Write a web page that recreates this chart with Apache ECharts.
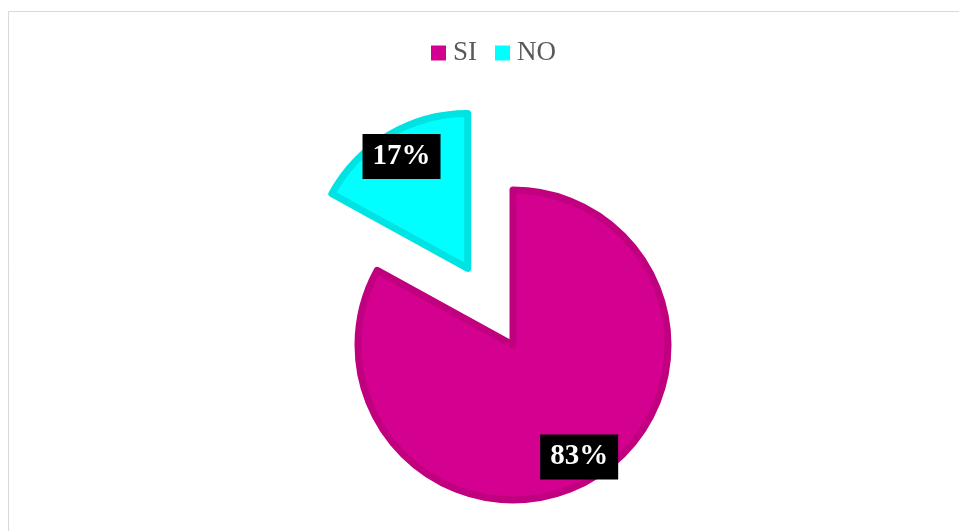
<!DOCTYPE html>
<html>
<head>
<meta charset="utf-8">
<script src="https://cdn.jsdelivr.net/npm/echarts@6/dist/echarts.min.js"></script>
<style>
  html, body { margin: 0; padding: 0; background: #fff; }
  #chart { width: 959px; height: 531px; }
</style>
</head>
<body>
<div id="chart"></div>
<script>
// datos
const categories = ['SI', 'NO'];
const values = [83, 17];
const colors = ['#D4008F', '#00FFFF'];
const borderColors = ['#C0007F', '#00E3E3'];

const serif = '"Liberation Serif", "DejaVu Serif", serif';
const center = [513, 345];

const pieData = categories.map((name, i) => ({
  name: name,
  value: values[i],
  selected: name === 'NO',
  itemStyle: { color: colors[i], borderColor: borderColors[i] }
}));

// serie transparente solo para colocar las etiquetas a ~80% del radio
const labelData = categories.map((name, i) => ({
  name: name,
  value: values[i],
  selected: name === 'NO'
}));

const myChart = echarts.init(document.getElementById('chart'));
const option = {
  animation: false,
  graphic: [
    {
      type: 'rect',
      shape: { x: 8.5, y: 11.5, width: 1000, height: 1000 },
      style: { fill: 'none', stroke: '#D9D9D9', lineWidth: 1 },
      silent: true
    }
  ],
  legend: {
    data: categories,
    left: 431,
    top: 38,
    padding: 0,
    icon: 'rect',
    itemWidth: 15,
    itemHeight: 15,
    itemGap: 18,
    itemStyle: { borderWidth: 0 },
    textStyle: {
      fontFamily: serif,
      fontSize: 27,
      lineHeight: 30,
      color: '#595959',
      padding: [0, 0, 0, 2]
    }
  },
  series: [
    {
      type: 'pie',
      center: center,
      radius: [0, 155],
      startAngle: 90,
      clockwise: true,
      selectedMode: 'multiple',
      selectedOffset: 89,
      silent: true,
      itemStyle: { borderWidth: 7 },
      label: { show: false },
      labelLine: { show: false },
      data: pieData
    },
    {
      type: 'pie',
      center: center,
      radius: [100, 154],
      startAngle: 90,
      clockwise: true,
      selectedMode: 'multiple',
      selectedOffset: 89,
      silent: true,
      legendHoverLink: false,
      itemStyle: { color: 'rgba(0,0,0,0)', borderWidth: 0 },
      label: {
        show: true,
        position: 'inside',
        formatter: '{d}%',
        fontFamily: serif,
        fontWeight: 'bold',
        fontSize: 29,
        color: '#fff',
        backgroundColor: '#000',
        padding: [9, 10, 7, 10]
      },
      labelLine: { show: false },
      data: labelData
    }
  ]
};
myChart.setOption(option, true);
</script>
</body>
</html>
